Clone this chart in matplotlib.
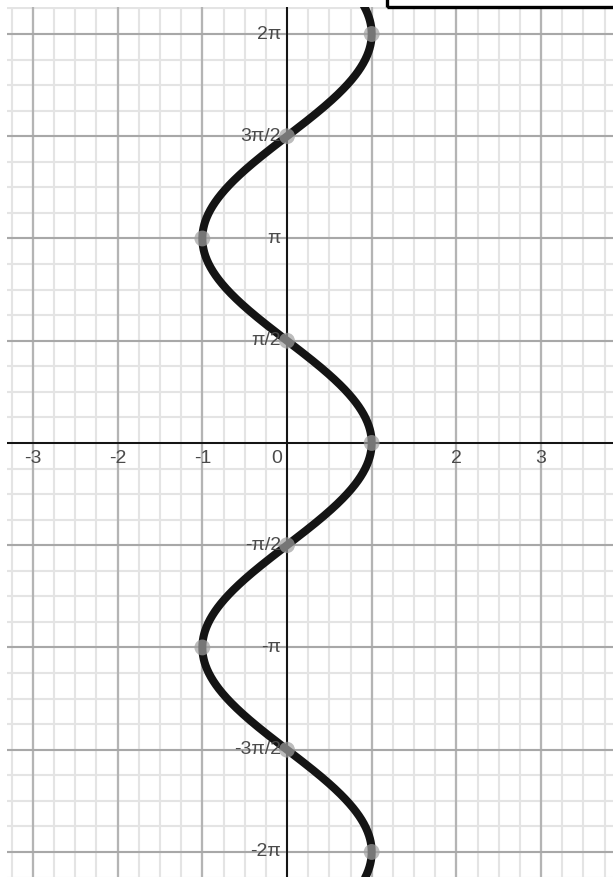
import numpy as np
import matplotlib
matplotlib.use("Agg")
import matplotlib.pyplot as plt
from matplotlib.patches import Rectangle

plt.rcParams['font.family'] = ['Liberation Sans', 'DejaVu Sans']

# Graph of x = cos(y)
x_ticks = [-3, -2, -1, 0, 2, 3]
x_tick_labels = ["-3", "-2", "-1", "0", "2", "3"]
y_ticks = [2 * np.pi, 1.5 * np.pi, np.pi, 0.5 * np.pi,
           -0.5 * np.pi, -np.pi, -1.5 * np.pi, -2 * np.pi]
y_tick_labels = ["2π", "3π/2", "π", "π/2", "-π/2", "-π", "-3π/2", "-2π"]

# Highlighted points on the curve
pt_x = [1, 0, -1, 0, 1, 0, -1, 0, 1]
pt_y = [2 * np.pi, 1.5 * np.pi, np.pi, 0.5 * np.pi, 0,
        -0.5 * np.pi, -np.pi, -1.5 * np.pi, -2 * np.pi]

x_min, x_max = -3.307, 3.85
y_min, y_max = -6.668, 6.698

W, H = 613, 877
fig = plt.figure(figsize=(W / 100, H / 100), dpi=100)
ax = fig.add_axes([7 / W, 0, (W - 7) / W, (H - 7) / H])
ax.set_xlim(x_min, x_max)
ax.set_ylim(y_min, y_max)
for s in ax.spines.values():
    s.set_visible(False)
ax.tick_params(which='both', length=0, labelbottom=False, labelleft=False)

# Grid: minor every 1/4 unit in x and π/8 in y, major at units and π/2
minor_x = np.arange(-3.5, 4.01, 0.25)
major_x = np.arange(-3, 4, 1)
minor_y = np.arange(-18, 18.01) * np.pi / 8
major_y = np.arange(-4, 4.01) * np.pi / 2
for v in minor_x:
    ax.axvline(v, color='#e4e4e4', lw=1.5, zorder=0)
for v in minor_y:
    ax.axhline(v, color='#e4e4e4', lw=1.5, zorder=0)
for v in major_x:
    ax.axvline(v, color='#b4b4b4', lw=1.6, zorder=1)
for v in major_y:
    ax.axhline(v, color='#a8a8a8', lw=1.5, zorder=1)

ax.axhline(0, color='#111111', lw=1.4, zorder=2)
ax.axvline(0, color='#111111', lw=1.4, zorder=2)

# Curve
yy = np.linspace(y_min - 0.5, y_max + 0.5, 1200)
ax.plot(np.cos(yy), yy, color='#141414', lw=5.8, solid_capstyle='round', zorder=4)

ax.scatter(pt_x, pt_y, s=130, color='#a0a0a0', alpha=0.7, edgecolors='none', zorder=5)

# Tick labels
for v, lab in zip(x_ticks, x_tick_labels):
    dx = -0.12 if v == 0 else 0.0
    ax.text(v + dx, -0.11, lab, ha='center', va='top', fontsize=14,
            color='#4a4a4a', zorder=6)
for v, lab in zip(y_ticks, y_tick_labels):
    ax.text(-0.07, v, lab, ha='right', va='center', fontsize=14,
            color='#4a4a4a', zorder=6)

# Partially visible label box at the top right
fig.patches.append(Rectangle((387 / W, 1 - 7 / H), 0.5, 0.2, transform=fig.transFigure,
                             fill=False, edgecolor='black', lw=2.4, zorder=10))

fig.savefig("out.png", dpi=100, facecolor='white')
